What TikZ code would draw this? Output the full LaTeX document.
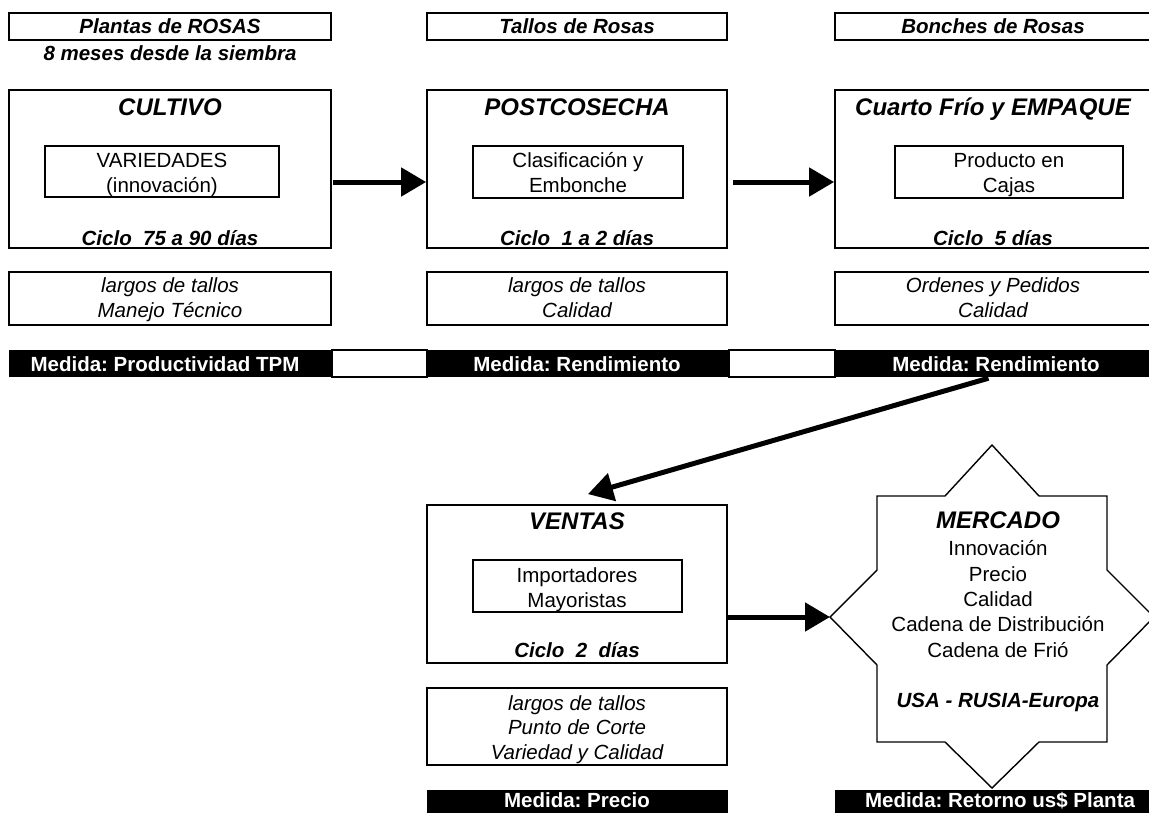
\documentclass[tikz,border=0pt]{standalone}
\usepackage{fontspec}
\setmainfont{Liberation Sans}
\usetikzlibrary{arrows.meta,fit}
\frenchspacing
\begin{document}
\begin{tikzpicture}[x=1pt,y=-1pt,
  frame/.style={draw, line width=1.8pt, inner sep=0pt},
  inbox/.style={draw, line width=1.6pt, inner sep=0pt},
  lbl/.style={font=\fontsize{20.5}{24}\selectfont\bfseries\itshape, anchor=base},
  ttl/.style={font=\fontsize{24}{28}\selectfont\bfseries\itshape, anchor=base},
  txt/.style={font=\fontsize{20.5}{25}\selectfont, anchor=base, align=center},
  itx/.style={font=\fontsize{20.5}{24.5}\selectfont\itshape, anchor=base, align=center},
  barcell/.style={fill=black, inner sep=0pt},
  gapcell/.style={fill=white, draw=black, line width=2pt, inner sep=0pt},
  bartext/.style={font=\fontsize{20.5}{24}\selectfont\bfseries, text=white, anchor=base},
  flow/.style={line width=5pt, -{Triangle[length=25pt,width=28pt]}}
]
\path[use as bounding box, fill=white] (0,0) rectangle (1149,812);

% ---- column 1: CULTIVO
% (multi-line texts are anchored at the baseline of their last line)
\node[frame, fit={(9,13)(331,40)}] (plantas) {};
\node[lbl] at (170,33) {Plantas de ROSAS};
\node[lbl] at (170,60) {8 meses desde la siembra};
\node[frame, fit={(9,90)(331,248)}] (cultivo) {};
\node[ttl] at (170,115) {CULTIVO};
\node[inbox, fit={(45,146)(279,197)}] (variedades) {};
\node[txt] at (162,192) {VARIEDADES\\(innovación)};
\node[lbl] at (170,245) {Ciclo\ \ 75 a 90 días};
\node[frame, fit={(9,272)(331,325)}] (nota1) {};
\node[itx] at (170,317) {largos de tallos\\Manejo Técnico};

% ---- column 2: POSTCOSECHA
\node[frame, fit={(427,13)(727,40)}] (tallos) {};
\node[lbl] at (577,33) {Tallos de Rosas};
\node[frame, fit={(427,90)(727,248)}] (postco) {};
\node[ttl] at (577,115) {POSTCOSECHA};
\node[inbox, fit={(473,146)(683,198)}] (clasif) {};
\node[txt] at (578,192) {Clasificación y\\Embonche};
\node[lbl] at (577,245) {Ciclo\ \ 1 a 2 días};
\node[frame, fit={(427,272)(727,325)}] (nota2) {};
\node[itx] at (577,317) {largos de tallos\\Calidad};

% ---- column 3: cuarto frío y empaque
\node[frame, fit={(835,13)(1153,40)}] (bonches) {};
\node[lbl] at (993,33) {Bonches de Rosas};
\node[frame, fit={(835,90)(1153,248)}] (cuarto) {};
\node[ttl] at (993,115) {Cuarto Frío y EMPAQUE};
\node[inbox, fit={(895,146)(1123,198)}] (cajas) {};
\node[txt] at (1009,192) {Producto en\\Cajas};
\node[lbl] at (993,245) {Ciclo\ \ 5 días};
\node[frame, fit={(835,272)(1153,325)}] (nota3) {};
\node[itx] at (993,317) {Ordenes y Pedidos\\Calidad};

% ---- measure bar
\node[barcell, fit={(9,350)(332,377)}] (m1) {};
\node[gapcell, fit={(332,350)(427,377)}] (g1) {};
\node[barcell, fit={(427,350)(729,377)}] (m2) {};
\node[gapcell, fit={(729,350)(835,377)}] (g2) {};
\node[barcell, fit={(835,350)(1153,377)}] (m3) {};
\node[bartext] at (165,371) {Medida: Productividad TPM};
\node[bartext] at (577,371) {Medida: Rendimiento};
\node[bartext] at (996,371) {Medida: Rendimiento};

% ---- VENTAS
\node[frame, fit={(427,505)(727,663)}] (ventas) {};
\node[ttl] at (577,529) {VENTAS};
\node[inbox, fit={(473,560)(682,612)}] (import) {};
\node[txt] at (577,607) {Importadores\\Mayoristas};
\node[lbl] at (577,657) {Ciclo\ \ 2\ \ días};
\node[frame, fit={(427,688)(727,765)}] (nota4) {};
\node[itx] at (577,759) {largos de tallos\\Punto de Corte\\Variedad y Calidad};
\node[barcell, fit={(427,790)(728,818)}] (m4) {};
\node[bartext] at (577,807) {Medida: Precio};

% ---- MERCADO star
\draw[line width=1.4pt, line join=miter]
  (992,445) -- (1039,496) -- (1107,496) -- (1107,570) -- (1154,617)
  -- (1107,665) -- (1107,742) -- (1039,742) -- (992,788) -- (945,742)
  -- (877,742) -- (877,665) -- (830,617) -- (877,570) -- (877,496)
  -- (945,496) -- cycle;
\coordinate (mtip) at (830,617);
\node[ttl] (mercado) at (998,528) {MERCADO};
\node[txt, font=\fontsize{20.5}{25.3}\selectfont] at (998,657) {Innovación\\Precio\\Calidad\\Cadena de Distribución\\Cadena de Frió};
\node[lbl] at (998,707) {USA - RUSIA-Europa};
\node[barcell, fit={(835,790)(1165,818)}] (m5) {};
\node[bartext] at (1000,807) {Medida: Retorno us\$ Planta};

% ---- flow connectors
\draw[flow] ([xshift=1pt,yshift=-13pt]cultivo.east) -- ([yshift=-13pt]postco.west);
\draw[flow] ([xshift=5pt,yshift=-13pt]postco.east) -- ([yshift=-13pt]cuarto.west);
\draw[flow] ([xshift=-5.5pt,yshift=-1pt]m3.south) -- ([xshift=11pt,yshift=10pt]ventas.north);
\draw[flow] (ventas.east |- mtip) -- (mtip);
\end{tikzpicture}
\end{document}
